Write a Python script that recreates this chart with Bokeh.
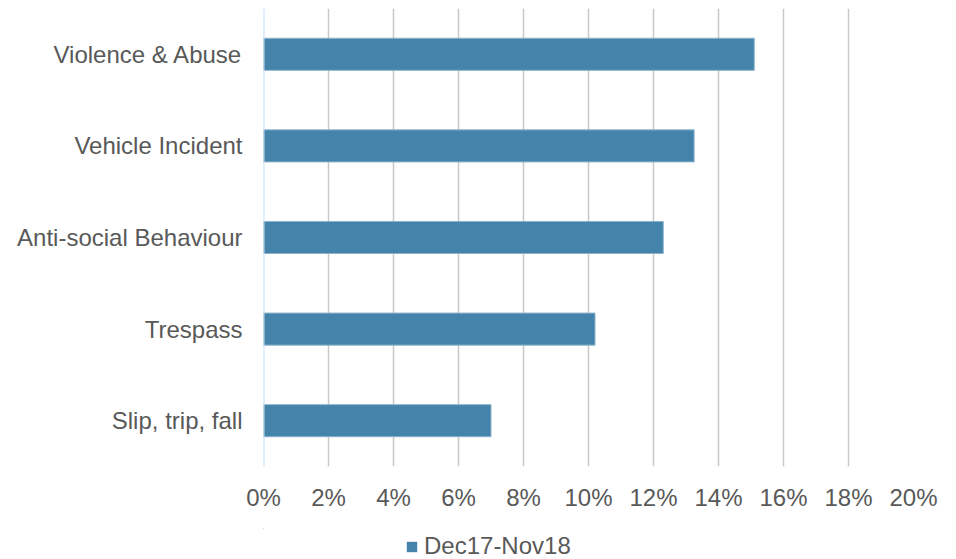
from bokeh.plotting import figure
from bokeh.layouts import column
from bokeh.models import ColumnDataSource, Range1d, FixedTicker, NumeralTickFormatter, Span, Legend, LegendItem
from bokeh.embed import file_html
from bokeh.resources import INLINE

categories = ["Slip, trip, fall", "Trespass", "Anti-social Behaviour", "Vehicle Incident", "Violence & Abuse"]
values = [0.070, 0.102, 0.123, 0.1325, 0.151]
series_name = "Dec17-Nov18"
tick_values = [0.0, 0.02, 0.04, 0.06, 0.08, 0.10, 0.12, 0.14, 0.16, 0.18, 0.20]

FONT = "Liberation Sans"
TXT = "#595959"
BAR = "#4584AA"
BAR_EDGE = "#8DB3CC"
FS = "24px"

src = ColumnDataSource(dict(cat=categories, val=values))

p = figure(width=950, height=528, y_range=categories, x_range=Range1d(0, 0.20),
           output_backend="svg", toolbar_location=None,
           min_border_left=263, min_border_right=37, min_border_top=8, min_border_bottom=62)
p.outline_line_color = None
p.background_fill_color = "white"
p.border_fill_color = "white"

r = p.hbar(y="cat", right="val", left=0, height=0.35, source=src,
           fill_color=BAR, line_color=BAR_EDGE, line_width=1)

p.xaxis.ticker = FixedTicker(ticks=tick_values)
p.xaxis.formatter = NumeralTickFormatter(format="0%")
p.xaxis.axis_line_color = None
p.xaxis.major_tick_line_color = None
p.xaxis.minor_tick_line_color = None
p.xaxis.major_tick_out = 0
p.xaxis.major_tick_in = 0
p.xaxis.minor_tick_out = 0
p.xaxis.major_label_text_font = FONT
p.xaxis.major_label_text_font_size = FS
p.xaxis.major_label_text_color = TXT
p.xaxis.major_label_standoff = 17

p.yaxis.axis_line_color = None
p.yaxis.major_tick_line_color = None
p.yaxis.minor_tick_line_color = None
p.yaxis.major_tick_out = 0
p.yaxis.major_tick_in = 0
p.yaxis.minor_tick_out = 0
p.yaxis.major_label_text_font = FONT
p.yaxis.major_label_text_font_size = FS
p.yaxis.major_label_text_color = TXT
p.yaxis.major_label_standoff = 21

p.ygrid.grid_line_color = None
p.xgrid.grid_line_color = "#C8C8C8"
p.xgrid.grid_line_width = 1.5

p.add_layout(Span(location=0, dimension="height", line_color="#C6DEF5", line_width=2))

# legend strip below the chart (its bars fall wholly outside its visible ranges)
p2 = figure(width=950, height=31, x_range=Range1d(1, 2), y_range=Range1d(0, 1),
            output_backend="svg", toolbar_location=None,
            x_axis_location=None, y_axis_location=None,
            min_border_left=0, min_border_right=0, min_border_top=0, min_border_bottom=0)
p2.outline_line_color = None
p2.background_fill_color = "white"
p2.border_fill_color = "white"
p2.xgrid.grid_line_color = None
p2.ygrid.grid_line_color = None
r2 = p2.hbar(y=10, right="val", left=0, height=0.35, source=src,
             fill_color=BAR, line_color=None)

legend = Legend(items=[LegendItem(label=series_name, renderers=[r2])],
                orientation="horizontal", location=(142, -1),
                label_text_font=FONT, label_text_font_size=FS, label_text_color=TXT,
                glyph_width=13, glyph_height=13, label_standoff=6,
                border_line_color=None, background_fill_alpha=0,
                padding=0, margin=0, spacing=0)
p2.add_layout(legend, "center")

layout = column(p, p2, spacing=0)
open("out.html", "w").write(file_html(layout, INLINE))
